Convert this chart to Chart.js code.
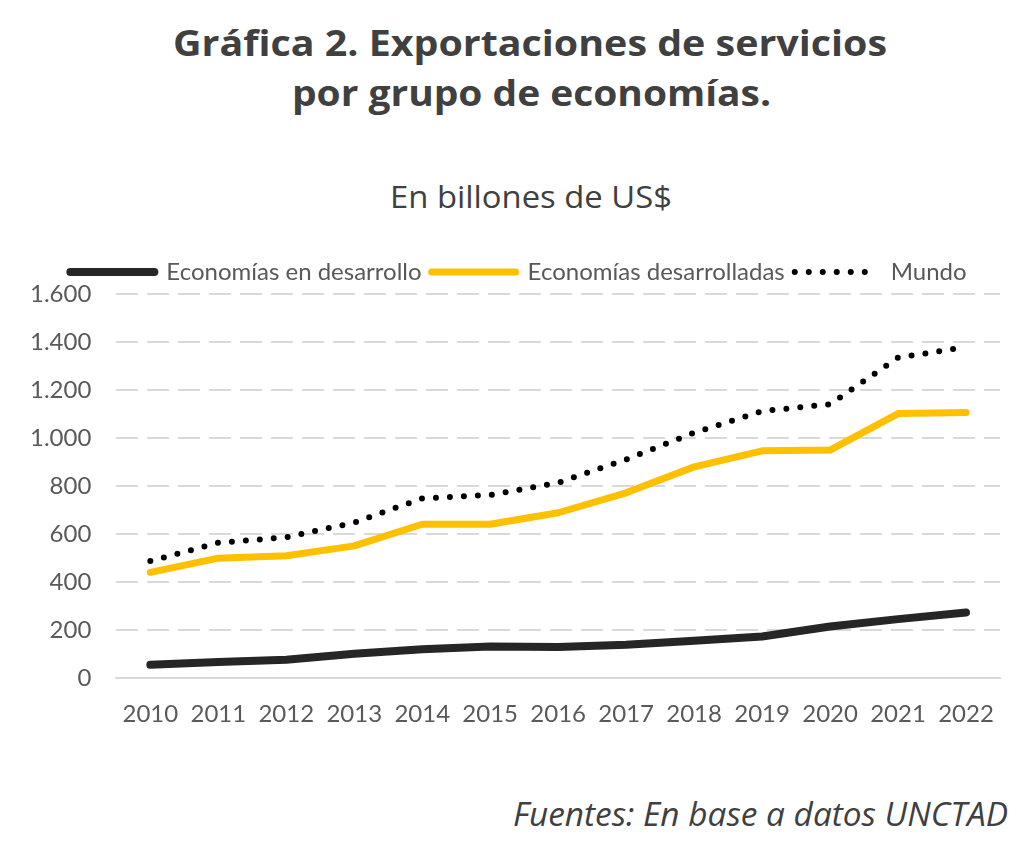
<!DOCTYPE html>
<html>
<head>
<meta charset="utf-8">
<script src="https://cdn.jsdelivr.net/npm/chart.js@4/dist/chart.umd.min.js"></script>
<style>
  html, body { margin: 0; padding: 0; background: #ffffff; }
  #page { position: relative; width: 1024px; height: 851px; overflow: hidden; background: #fff; }
  .line { position: absolute; white-space: nowrap; transform-origin: 0 0; }
  #t1, #t2 { font-family: "Open Sans", sans-serif; font-weight: 700; font-size: 36px; line-height: 50px; color: #404040; }
  #t1 { top: 18px; }
  #t2 { top: 68px; }
  #subtitle { top: 176px; font-family: "Open Sans", sans-serif; font-size: 31px; line-height: 40px; color: #404040; }
  #foot { top: 794px; font-family: "Open Sans", sans-serif; font-style: italic; font-size: 33px; line-height: 40px; color: #404040; }
  #wrap { position: absolute; left: 0; top: 240px; width: 1024px; height: 525px; }
</style>
</head>
<body>
<div id="page">
  <div id="t1" class="line" data-l="173" data-r="887">Gráfica 2. Exportaciones de servicios</div>
  <div id="t2" class="line" data-l="292" data-r="771">por grupo de economías.</div>
  <div id="subtitle" class="line" data-l="390" data-r="672">En billones de US$</div>
  <div id="wrap"><canvas id="c" width="1024" height="525"></canvas></div>
  <div id="foot" class="line" data-l="513" data-r="1008">Fuentes: En base a datos UNCTAD</div>
</div>
<script>
const years = ['2010','2011','2012','2013','2014','2015','2016','2017','2018','2019','2020','2021','2022'];
const enDesarrollo = [56, 67, 77, 102, 121, 132, 130, 139, 156, 174, 215, 246, 274];
const desarrolladas = [441, 500, 510, 551, 641, 641, 689, 772, 880, 947, 950, 1102, 1106];
const mundo = [488, 564, 587, 648, 749, 763, 814, 911, 1022, 1112, 1141, 1335, 1379];
const seriesNames = ['Economías en desarrollo', 'Economías desarrolladas', 'Mundo'];
const yTicks = [0, 200, 400, 600, 800, 1000, 1200, 1400, 1600];

// fit text lines horizontally to their spans in the reference
document.querySelectorAll('.line').forEach(el => {
  const l = +el.dataset.l, r = +el.dataset.r;
  const w = el.getBoundingClientRect().width;
  el.style.left = l + 'px';
  el.style.transform = 'scaleX(' + ((r - l) / w) + ')';
});

function fmt(v) {
  return String(v).replace(/\B(?=(\d{3})+(?!\d))/g, '.');
}

const shiftLegend = {
  id: 'shiftLegend',
  afterLayout(chart) {
    if (chart.legend) { chart.legend.left += 16; chart.legend.right += 16; }
  }
};

const ctx = document.getElementById('c').getContext('2d');
new Chart(ctx, {
  type: 'line',
  data: {
    labels: years,
    datasets: [
      { label: seriesNames[0], data: enDesarrollo, borderColor: '#262626', backgroundColor: '#262626',
        borderWidth: 8, pointRadius: 0, tension: 0, borderCapStyle: 'round', borderJoinStyle: 'round' },
      { label: seriesNames[1], data: desarrolladas, borderColor: '#FFC000', backgroundColor: '#FFC000',
        borderWidth: 7, pointRadius: 0, tension: 0, borderCapStyle: 'round', borderJoinStyle: 'round' },
      { label: seriesNames[2], data: mundo, borderColor: '#000000', backgroundColor: '#000000',
        borderWidth: 6, pointRadius: 0, tension: 0, borderDash: [0, 14], borderCapStyle: 'round', borderJoinStyle: 'round' }
    ]
  },
  plugins: [shiftLegend],
  options: {
    responsive: false,
    animation: false,
    layout: { padding: { left: 5, right: 24, top: 10, bottom: 14 } },
    plugins: {
      title: { display: false },
      tooltip: { enabled: false },
      legend: {
        position: 'top',
        labels: {
          usePointStyle: true,
          pointStyleWidth: 84,
          padding: 10,
          color: '#595959',
          font: { family: 'Lato', size: 24 },
          generateLabels(chart) {
            return chart.data.datasets.map((ds, i) => ({
              text: ds.label,
              fillStyle: ds.borderColor,
              strokeStyle: ds.borderColor,
              lineWidth: ds.borderWidth,
              lineDash: ds.borderDash || [],
              lineCap: 'round',
              pointStyle: 'line',
              fontColor: '#595959',
              hidden: false,
              datasetIndex: i
            }));
          }
        }
      }
    },
    scales: {
      x: {
        offset: true,
        grid: { display: false, drawTicks: false },
        border: { display: true, color: '#d9d9d9', width: 2 },
        ticks: { color: '#595959', font: { family: 'Lato', size: 24 }, padding: 22, maxRotation: 0, autoSkip: false }
      },
      y: {
        min: 0, max: 1600,
        afterBuildTicks(axis) { axis.ticks = yTicks.map(v => ({ value: v })); },
        grid: {
          drawTicks: false,
          lineWidth: 2,
          color: (c) => (c.tick && c.tick.value === 0) ? 'rgba(0,0,0,0)' : '#d9d9d9'
        },
        border: { display: false, dash: [22, 9] },
        ticks: { color: '#595959', font: { family: 'Lato', size: 24 }, padding: 25,
          callback: (v) => fmt(v) }
      }
    }
  }
});
</script>
</body>
</html>
